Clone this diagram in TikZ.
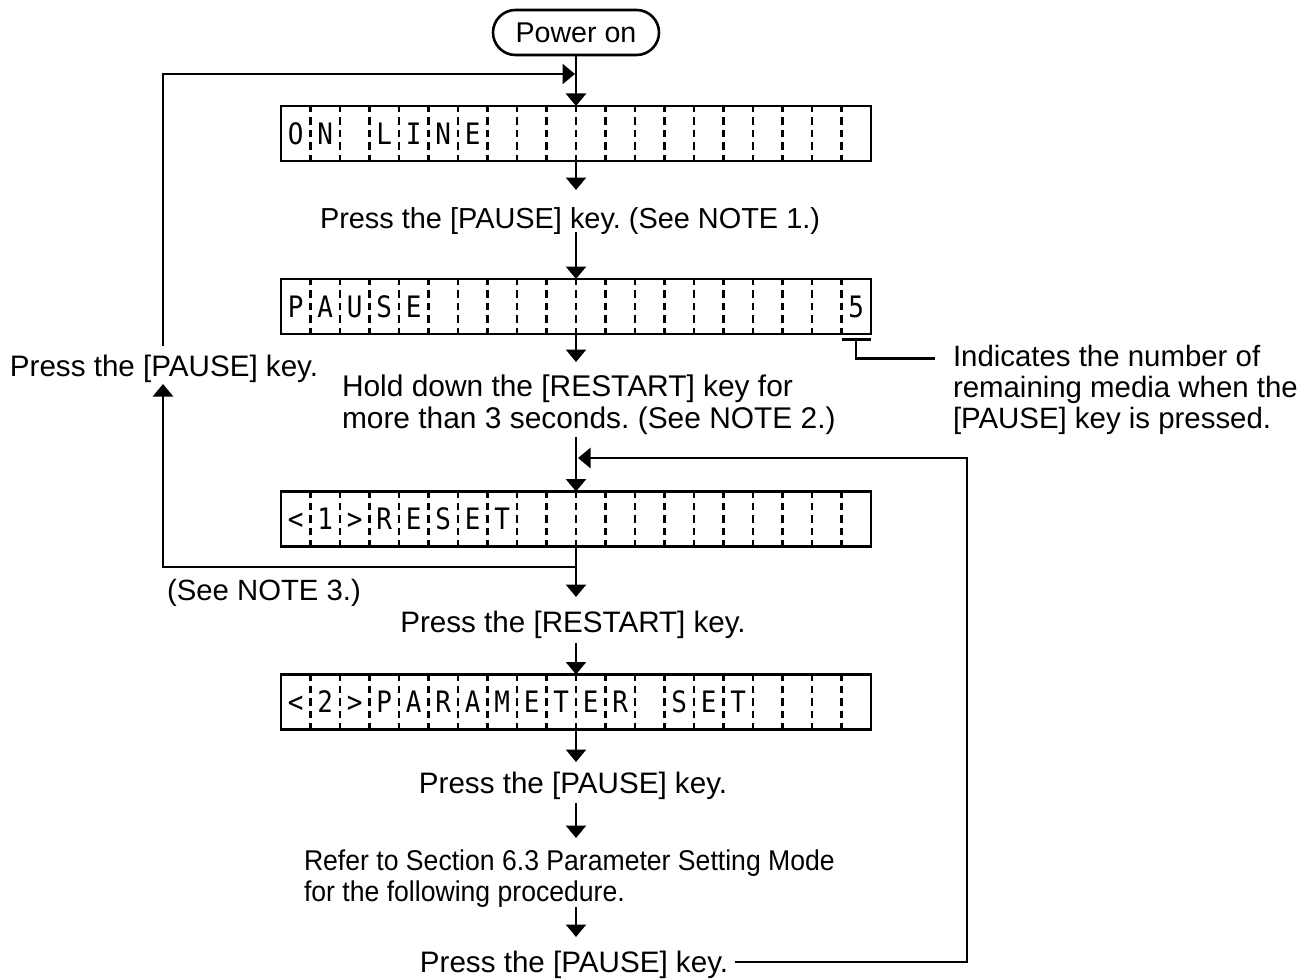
\documentclass[tikz,border=0pt]{standalone}
\usepackage{fontspec}
\setmainfont{Liberation Sans}
\newfontfamily\lcdfont{DejaVu Sans Mono}[FakeStretch=0.88]
\newfontfamily\narrowfont{Liberation Sans}[FakeStretch=0.93]
\usetikzlibrary{arrows.meta,calc}
\frenchspacing
\tikzset{
  ln/.style={line width=2.6pt},
  arr/.style={ln,-{Triangle[width=20pt,length=12.5pt]}},
  lcdbox/.style={draw,line width=2.9pt,minimum width=590pt,minimum height=55pt,inner sep=0pt,outer sep=0pt},
  divider/.style={line width=2.2pt,dash pattern=on 7.5pt off 5pt,dash phase=1.25pt},
  lbl/.style={font=\frenchspacing\fontsize{28.6}{31.5}\selectfont,inner sep=0pt,outer sep=0pt},
  big/.style={font=\frenchspacing\fontsize{29.6}{31.5}\selectfont},
  lcdchar/.style={font=\lcdfont\fontsize{29.5}{29.5}\selectfont,inner sep=0pt,anchor=base},
  pwr/.style={draw,line width=2.6pt,rounded corners=22.5pt,minimum width=166pt,minimum height=45pt,inner sep=0pt,outer sep=0pt,font=\fontsize{28.6}{31.5}\selectfont},
}
\newcommand\lcdrow[3]{%
  \node[lcdbox] (#1) at (576,#2) {};
  \foreach \k in {1,...,19}
    \draw[divider] ($(#1.north west)+(\k*29.5,0)$) -- ($(#1.south west)+(\k*29.5,0)$);
  \foreach \c [count=\i] in {#3}
    \node[lcdchar] at ($(#1.west)+(\i*29.5-14.75,10.5)$) {\c};
}
\begin{document}
\begin{tikzpicture}[x=1pt,y=-1pt]
\useasboundingbox (0,0) rectangle (1313,979);
\node[pwr] (power) at (576,32.5) {Power on};
\lcdrow{lcdA}{133.5}{O,N,,L,I,N,E}
\lcdrow{lcdB}{306.5}{P,A,U,S,E,,,,,,,,,,,,,,,5}
\lcdrow{lcdC}{519}{<,1,>,R,E,S,E,T}
\lcdrow{lcdD}{702}{<,2,>,P,A,R,A,M,E,T,E,R,,S,E,T}

\node[lbl,font=\frenchspacing\fontsize{28.9}{31.5}\selectfont,anchor=base west] (t1) at (320,228) {Press the [PAUSE] key. (See NOTE 1.)};
\node[lbl,big,anchor=base] (back) at (164,376) {Press the [PAUSE] key.};
\node[lbl,font=\frenchspacing\fontsize{29.9}{31.8}\selectfont,anchor=west,align=left] (t2) at (342,405) {Hold down the [RESTART] key for\\more than 3 seconds. (See NOTE 2.)};
\node[lbl,font=\frenchspacing\fontsize{29.4}{31}\selectfont,anchor=west,align=left] (note) at (953,390) {Indicates the number of\\remaining media when the\\\relax[PAUSE] key is pressed.};
\node[lbl,font=\frenchspacing\fontsize{29.3}{31}\selectfont,anchor=base] (n3) at (264,600) {(See NOTE 3.)};
\node[lbl,big,anchor=base] (t3) at (573,632) {Press the [RESTART] key.};
\node[lbl,big,anchor=base] (t4) at (573,793) {Press the [PAUSE] key.};
\node[lbl,font=\narrowfont\frenchspacing\fontsize{28.6}{31.2}\selectfont,anchor=west,align=left] (t5) at (304,878.5) {Refer to Section 6.3 Parameter Setting Mode\\for the following procedure.};
\node[lbl,big,anchor=base] (t6) at (574,972) {Press the [PAUSE] key.};

\coordinate (top) at (575,74);
\coordinate (a1) at (576,190); \coordinate (b1) at (576,232);
\coordinate (a2) at (576,362); \coordinate (b2) at (576,437);
\coordinate (feed) at (578,458);
\coordinate (j3) at (576,567); \coordinate (a3) at (576,597);
\coordinate (b3) at (576,643);
\coordinate (a4) at (576,762); \coordinate (b4) at (576,803);
\coordinate (a5) at (576,838); \coordinate (b5) at (576,907);
\coordinate (a6) at (576,937);
\coordinate (rl) at (967,458);
\coordinate (e6) at (735,962);
\coordinate (lu) at (163,384);
\coordinate (ld) at (163,346);
\coordinate (brL) at (841.5,339.5);
\coordinate (brR) at (871,339.5);
\coordinate (brM) at (856,339.5);
\coordinate (nt) at (935,358.5);

\draw[arr] (power.south) -- (lcdA.north);
\draw[arr] (ld) |- (top);
\draw[arr] (lcdA.south) -- (a1);
\draw[arr] (b1) -- (lcdB.north);
\draw[arr] (lcdB.south) -- (a2);
\draw[arr] (b2) -- (lcdC.north);
\draw[arr] (e6) -| (rl) -- (feed);
\draw[arr] (lcdC.south) -- (a3);
\draw[arr] (j3) -| (lu);
\draw[arr] (b3) -- (lcdD.north);
\draw[arr] (lcdD.south) -- (a4);
\draw[arr] (b4) -- (a5);
\draw[arr] (b5) -- (a6);
\draw[ln] (brL) -- (brR);
\draw[ln] (brM) |- (nt);
\end{tikzpicture}
\end{document}
